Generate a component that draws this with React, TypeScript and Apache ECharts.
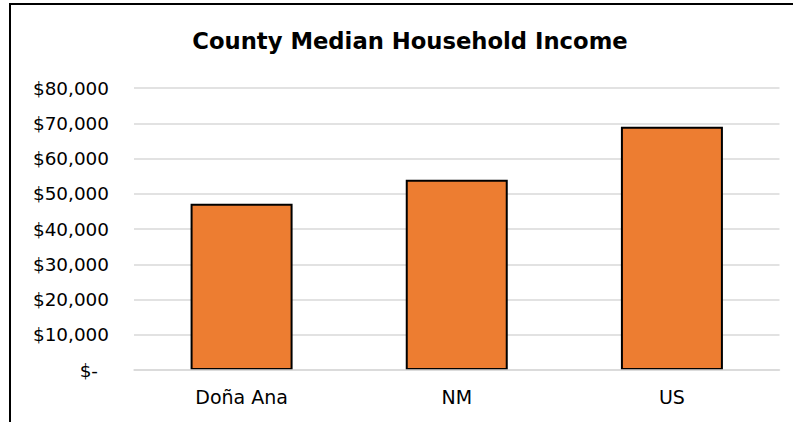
import React, { useEffect, useRef } from "react";
import * as echarts from "echarts";

const TITLE = "County Median Household Income";
const categories = ["Doña Ana", "NM", "US"];
const incomes = [47151, 53992, 69021];
const yMin = 0;
const yMax = 80000;
const yInterval = 10000;

const FONT = "'DejaVu Sans', sans-serif";

export default function App() {
  const ref = useRef<HTMLDivElement>(null);
  useEffect(() => {
    if (!ref.current) return;
    const chart = echarts.init(ref.current, null, { renderer: "svg" });
    chart.setOption({
      animation: false,
      backgroundColor: "#ffffff",
      grid: { left: 134, right: 13.5, top: 88, bottom: 52, containLabel: false },
      graphic: [
        {
          type: "rect",
          shape: { x: 10, y: 4, width: 820, height: 440 },
          style: { fill: "none", stroke: "#000000", lineWidth: 2 },
          silent: true,
        },
        {
          type: "text",
          x: 410,
          y: 41,
          style: {
            text: TITLE,
            font: `bold 22.7px ${FONT}`,
            fill: "#000000",
            textAlign: "center",
            textVerticalAlign: "middle",
          },
        },
      ],
      xAxis: {
        type: "category",
        data: categories,
        z: 3,
        axisLine: { show: true, lineStyle: { color: "#d9d9d9", width: 1.5 } },
        axisTick: { show: false },
        axisLabel: { color: "#000000", fontFamily: FONT, fontSize: 19, margin: 17 },
      },
      yAxis: {
        type: "value",
        min: yMin,
        max: yMax,
        interval: yInterval,
        axisLine: { show: false },
        axisTick: { show: false },
        splitLine: { lineStyle: { color: "#d9d9d9", width: 1.5 } },
        axisLabel: {
          color: "#000000",
          fontFamily: FONT,
          fontSize: 18.4,
          margin: 25,
          formatter: (v: number) =>
            v === 0 ? "{z|$-}" : "$" + v.toLocaleString("en-US"),
          rich: {
            z: { color: "#000000", fontFamily: FONT, fontSize: 18.4, padding: [0, 11, 0, 0] },
          },
        },
      },
      series: [
        {
          type: "bar",
          data: incomes,
          barWidth: 102,
          itemStyle: { color: "#ED7D31", borderColor: "#000000", borderWidth: 2 },
        },
      ],
    });
    return () => chart.dispose();
  }, []);
  return (
    <div
      ref={ref}
      style={{ position: "absolute", left: 0, top: 0, width: 793, height: 422 }}
    />
  );
}
